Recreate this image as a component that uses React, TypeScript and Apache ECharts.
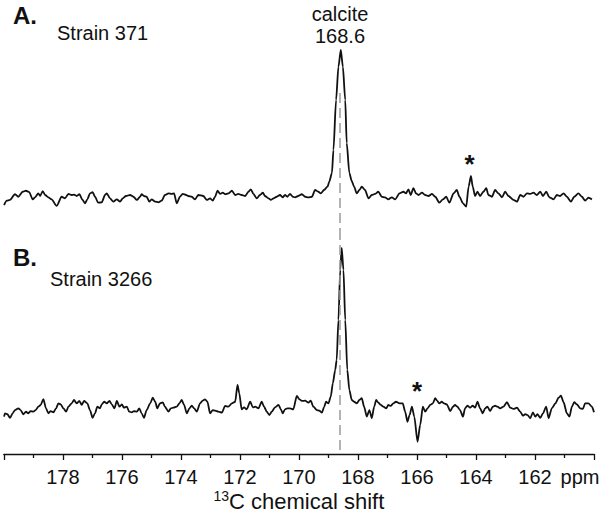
import React, { useEffect, useRef } from "react";
import * as echarts from "echarts";

// 13C chemical shift (ppm) and normalised intensity (% of calcite peak)
const ppmA = [
  179.99, 179.9, 179.79, 179.62, 179.51, 179.36, 179.25, 179.14, 179.02, 178.94, 178.83, 178.77, 178.68, 178.6, 178.49,
  178.38, 178.21, 178.04, 177.93, 177.81, 177.7, 177.62, 177.53, 177.44, 177.33, 177.25, 177.17, 177.08, 176.99, 176.91,
  176.8, 176.68, 176.57, 176.51, 176.4, 176.29, 176.17, 176.06, 175.97, 175.86, 175.72, 175.61, 175.49, 175.38, 175.33,
  175.25, 175.16, 175.07, 174.99, 174.87, 174.76, 174.65, 174.54, 174.42, 174.31, 174.23, 174.14, 174.03, 173.94, 173.82,
  173.75, 173.63, 173.52, 173.41, 173.24, 173.12, 173.01, 172.92, 172.84, 172.76, 172.67, 172.58, 172.5, 172.39, 172.27,
  172.16, 172.05, 171.94, 171.82, 171.71, 171.63, 171.54, 171.43, 171.32, 171.22, 171.15, 171.03, 170.95, 170.86, 170.75,
  170.64, 170.55, 170.47, 170.39, 170.3, 170.21, 170.13, 170.02, 169.9, 169.79, 169.68, 169.56, 169.45, 169.34, 169.26,
  169.15, 169.03, 168.97, 168.88, 168.83, 168.74, 168.66, 168.58, 168.51, 168.43, 168.38, 168.29, 168.21, 168.13, 168.04,
  167.95, 167.87, 167.76, 167.64, 167.53, 167.42, 167.31, 167.19, 167.08, 166.97, 166.85, 166.74, 166.59, 166.46, 166.37,
  166.29, 166.21, 166.12, 166.03, 165.95, 165.83, 165.72, 165.61, 165.49, 165.38, 165.24, 165.12, 165.01, 164.9, 164.76,
  164.65, 164.56, 164.44, 164.33, 164.25, 164.17, 164.11, 164.03, 163.95, 163.86, 163.75, 163.65, 163.58, 163.46, 163.35,
  163.24, 163.12, 163.01, 162.9, 162.73, 162.61, 162.5, 162.39, 162.27, 162.16, 162.05, 161.94, 161.82, 161.73, 161.62,
  161.51, 161.37, 161.26, 161.15, 161.03, 160.92, 160.78, 160.67, 160.53, 160.41, 160.3, 160.19, 160.07,
];
const intA = [
  -6.2, -3.2, -2.7, 1.2, -0.5, 2.9, 3.6, 2.7, -2.3, -0.9, 1.8, 0, 3.4, 0.7, -0.9,
  -2.3, -6.8, -0.5, -1.6, 1.4, 0.7, 0.9, 0, 1.2, -2.7, -5.0, -2.3, 1.8, 2.7, -0.5,
  -4.6, -4.3, 0.7, 1.8, -1.6, -3.9, -2.3, -3.9, -1.6, 0, 0.7, -0.5, -2.7, -0.5, 1.2,
  0, -0.5, -3.9, -2.3, -3.9, -4.3, -3.2, 0.7, 1.8, 1.4, 1.8, -5.0, -0.5, 1.4, 0.7,
  0, -0.5, -2.3, 0.7, 0, -2.7, -1.6, -3.2, -0.5, 3.6, 1.4, 2.3, 1.2, 1.8, 3.6,
  0.7, 1.4, 0.7, 0, 2.9, 4.6, 1.4, -1.6, 0.7, 2.3, 0, -1.6, -2.7, -1.6, -0.5,
  0.7, -0.9, 0.7, -0.5, 1.4, -0.5, -0.9, 0, 1.2, -0.5, -0.9, -0.5, 4.1, 2.9, 1.8,
  4.1, 6.4, 9.8, 15.8, 31.5, 65.8, 88.6, 100, 88.6, 65.8, 36.3, 15.8, 10.3, 6.4, 1.8,
  4.1, 6.4, 4.1, -1.6, 0.7, 1.4, 2.9, -0.5, -0.9, -2.3, -0.9, -2.3, 1.8, 2.9, 1.8,
  4.6, 0.7, 5.3, 1.8, 0.7, 2.3, 0.7, 0, 1.4, -0.5, -4.6, -2.3, -0.5, -4.6, 1.8,
  4.1, -0.5, -5.0, -7.3, 6.4, 13.7, 6.4, 0, 2.9, 0, 2.9, 5.3, 0.7, -0.5, 4.1,
  1.8, -0.9, 2.9, 0, -2.7, -3.9, 0.7, -0.5, 1.8, 1.4, 2.3, 0.7, 2.9, 0, 2.9,
  -0.9, -2.3, 0.7, 0, 1.8, -0.5, -3.9, -0.5, 1.8, -0.5, -3.2, -1.2, -2.3,
];

const ppmB = [
  179.99, 179.96, 179.88, 179.79, 179.7, 179.62, 179.51, 179.43, 179.34, 179.25, 179.17, 179.09, 179.0, 178.92, 178.83,
  178.75, 178.66, 178.57, 178.49, 178.41, 178.32, 178.23, 178.15, 178.07, 177.98, 177.89, 177.81, 177.7, 177.62, 177.53,
  177.44, 177.36, 177.28, 177.17, 177.08, 176.99, 176.91, 176.83, 176.74, 176.68, 176.6, 176.51, 176.42, 176.34, 176.25,
  176.17, 176.08, 176.0, 175.93, 175.83, 175.75, 175.66, 175.59, 175.49, 175.41, 175.33, 175.25, 175.16, 175.04, 174.95,
  174.87, 174.8, 174.71, 174.61, 174.54, 174.42, 174.34, 174.25, 174.14, 174.05, 173.97, 173.89, 173.8, 173.71, 173.63,
  173.55, 173.46, 173.35, 173.26, 173.18, 173.1, 173.01, 172.92, 172.84, 172.73, 172.61, 172.5, 172.39, 172.27, 172.16,
  172.08, 172.02, 171.94, 171.86, 171.77, 171.65, 171.56, 171.48, 171.37, 171.26, 171.18, 171.09, 171.0, 170.92, 170.81,
  170.69, 170.61, 170.55, 170.47, 170.39, 170.3, 170.19, 170.07, 169.98, 169.9, 169.79, 169.68, 169.6, 169.51, 169.39,
  169.31, 169.22, 169.15, 169.08, 169.0, 168.92, 168.85, 168.77, 168.72, 168.66, 168.6, 168.55, 168.49, 168.43, 168.36,
  168.29, 168.21, 168.13, 168.04, 167.95, 167.87, 167.79, 167.7, 167.61, 167.53, 167.45, 167.38, 167.31, 167.22, 167.14,
  167.04, 166.97, 166.89, 166.8, 166.71, 166.59, 166.48, 166.4, 166.32, 166.25, 166.17, 166.09, 165.98, 165.89, 165.8,
  165.72, 165.64, 165.55, 165.46, 165.38, 165.31, 165.24, 165.16, 165.08, 164.99, 164.87, 164.78, 164.71, 164.63, 164.54,
  164.44, 164.37, 164.29, 164.2, 164.11, 164.03, 163.95, 163.86, 163.77, 163.69, 163.61, 163.52, 163.43, 163.35, 163.27,
  163.18, 163.07, 162.95, 162.84, 162.73, 162.61, 162.5, 162.41, 162.33, 162.25, 162.16, 162.07, 161.99, 161.92, 161.82,
  161.73, 161.62, 161.54, 161.43, 161.31, 161.2, 161.12, 161.03, 160.92, 160.83, 160.75, 160.67, 160.58, 160.47, 160.38,
  160.3, 160.19, 160.07, 160.0,
];
const intB = [
  -5.4, -3.3, -3.9, -6.1, -3.3, -1.3, -0.2, -1.3, -3.9, -2.3, -3.3, -1.9, -2.3, -1.3, 0.8,
  1.9, 5.6, -0.2, -3.3, -1.9, -2.7, -0.2, 2.9, 2.3, -0.2, -2.3, 0.8, 2.9, 5.0, 2.9,
  4.4, 1.9, 4.4, 2.9, -1.3, -6.1, -3.3, 0.8, -0.2, 2.3, 3.9, 2.9, 4.4, 2.3, -0.2,
  4.4, 0.8, 2.3, 0.2, 0.8, -2.3, -2.7, -1.9, -2.3, -0.2, -3.3, -6.1, -1.3, 2.9, 6.4,
  3.9, -0.2, 2.9, 3.5, 0.8, -2.3, -0.2, 0.2, 0.8, 2.9, 5.0, 1.9, -3.3, -0.2, 1.4,
  -0.2, -2.3, 2.9, 4.6, 5.4, 3.9, -3.3, -1.3, -1.7, -2.3, -2.9, 1.3, 0.8, 2.9, 3.9,
  14.4, 9.2, -0.8, 0.4, -0.8, 3.9, 0.4, 0.8, -0.2, 3.9, 0.8, -2.3, -4.4, -2.3, 0.4,
  1.9, -0.8, -3.3, -0.8, -0.2, -0.2, -0.8, 7.5, 5.4, 4.4, 4.6, 3.3, 4.6, 0.8, -1.3,
  -1.7, -2.9, 0.4, 3.9, 2.9, 7.1, 15.4, 23.8, 30.0, 55.0, 86.3, 100, 86.3, 55.0, 23.8,
  11.3, 5.0, 3.9, 2.9, 5.0, 6.1, 0.8, -5.4, -1.3, -6.4, 0.8, 5.0, 3.3, 1.9, 0.8,
  -0.2, 1.9, 1.3, 2.9, 3.9, 2.9, 2.9, -2.3, -8.6, -4.4, 0.8, -5.4, -21.1, -10.6, 0.8,
  -2.3, -0.2, 1.9, 2.9, 6.1, 4.4, 2.9, 3.9, 2.9, 2.3, -1.9, 0.8, 1.9, 0.8, -1.3,
  -5.4, -0.2, 1.4, 0.2, 1.4, 0.2, 3.9, -0.2, -3.3, -0.2, 0.8, -1.9, 0.8, 1.4, 0.8,
  -0.2, 0.8, 3.6, 0.2, -0.6, 0.2, -2.3, -4.8, -3.9, -4.4, -6.4, -2.7, -5.4, -3.9, -6.1,
  -3.3, 0.8, -6.4, -0.2, 2.9, 6.4, 7.7, 3.6, -3.3, -5.4, 0.8, 3.6, 2.3, -0.2, -0.6,
  2.9, 2.9, 0.8, -2.7,
];

const calcitePpm = 168.6;
const xTicks = [178, 176, 174, 172, 170, 168, 166, 164, 162];
const panelLabels = ["A.", "B."];
const strainLabels = ["Strain 371", "Strain 3266"];

const FONT = '"Liberation Sans", Arial, Helvetica, sans-serif';
const INK = "#111111";

export default function App() {
  const ref = useRef<HTMLDivElement>(null);

  useEffect(() => {
    if (!ref.current) return;
    const chart = echarts.init(ref.current, null, { renderer: "svg" });
    const dataA = ppmA.map((p, i) => [p, intA[i]]);
    const dataB = ppmB.map((p, i) => [p, intB[i]]);
    const yA: [number, number] = [-23.29, 106.85];
    const yB: [number, number] = [-28.75, 111.25];

    const dash = {
      silent: true,
      symbol: ["none", "none"],
      label: { show: false },
      emphasis: { disabled: true },
      lineStyle: { color: "#9a9a9a", type: [10, 5], width: 1.5 },
    };

    const txt = (text: string, x: number, y: number, size: number, extra: any = {}) => ({
      type: "text",
      x,
      y,
      silent: true,
      style: {
        text,
        fontSize: size,
        fontFamily: FONT,
        fill: INK,
        verticalAlign: "middle",
        align: "left",
        ...extra,
      },
    });

    chart.setOption({
      animation: false,
      backgroundColor: "#ffffff",
      grid: [
        { left: 3.8, right: 9, top: 40, height: 190 },
        { left: 3.8, right: 9, top: 230, height: 224 },
      ],
      xAxis: [
        { gridIndex: 0, type: "value", min: 160, max: 180, inverse: true, show: false },
        {
          gridIndex: 1,
          type: "value",
          min: 160,
          max: 180,
          interval: 2,
          inverse: true,
          axisLine: { onZero: false, lineStyle: { color: INK, width: 1.3 } },
          axisTick: { length: 6, lineStyle: { color: INK, width: 1.3 } },
          minorTick: { show: true, splitNumber: 2, length: 4, lineStyle: { color: INK, width: 1.3 } },
          splitLine: { show: false },
          minorSplitLine: { show: false },
          axisLabel: {
            margin: 13,
            fontSize: 20,
            color: INK,
            fontFamily: FONT,
            formatter: (v: number) => (xTicks.includes(v) ? String(v) : ""),
          },
          name: "{s|13}{m|C chemical shift}",
          nameLocation: "middle",
          nameGap: 35,
          nameTextStyle: {
            fontFamily: FONT,
            color: INK,
            fontSize: 22,
            rich: {
              s: { fontSize: 14, fontFamily: FONT, color: INK, verticalAlign: "top", lineHeight: 25 },
              m: { fontSize: 22, fontFamily: FONT, color: INK, lineHeight: 25 },
            },
          },
        },
      ],
      yAxis: [
        { gridIndex: 0, type: "value", min: yA[0], max: yA[1], show: false },
        { gridIndex: 1, type: "value", min: yB[0], max: yB[1], show: false },
      ],
      series: [
        {
          type: "line",
          xAxisIndex: 0,
          yAxisIndex: 0,
          data: dataA,
          showSymbol: false,
          symbol: "none",
          smooth: 0.25,
          smoothMonotone: "x",
          lineStyle: { color: INK, width: 1.8 },
          markLine: { ...dash, data: [[{ coord: [calcitePpm, 70.5] }, { coord: [calcitePpm, yA[0]] }]] },
        },
        {
          type: "line",
          xAxisIndex: 1,
          yAxisIndex: 1,
          data: dataB,
          showSymbol: false,
          symbol: "none",
          smooth: 0.25,
          smoothMonotone: "x",
          lineStyle: { color: INK, width: 1.8 },
          markLine: { ...dash, data: [[{ coord: [calcitePpm, yB[1]] }, { coord: [calcitePpm, yB[0]] }]] },
        },
      ],
      graphic: [
        txt(panelLabels[0], 13, 15, 24, { fontWeight: "bold" }),
        txt(strainLabels[0], 57, 32.5, 20),
        txt("calcite", 340, 13.5, 20, { align: "center" }),
        txt(String(calcitePpm), 340, 35.5, 20, { align: "center" }),
        txt("*", 469.5, 164, 26, { align: "center", fontWeight: "bold" }),
        txt(panelLabels[1], 13, 257.5, 24, { fontWeight: "bold" }),
        txt(strainLabels[1], 50, 278.5, 20),
        txt("*", 417, 390.5, 26, { align: "center", fontWeight: "bold" }),
        txt("ppm", 580, 477, 20, { align: "center" }),
      ],
    });
    return () => chart.dispose();
  }, []);

  return (
    <div
      ref={ref}
      style={{ position: "fixed", left: 0, top: 0, width: 603, height: 518, background: "#fff" }}
    />
  );
}
